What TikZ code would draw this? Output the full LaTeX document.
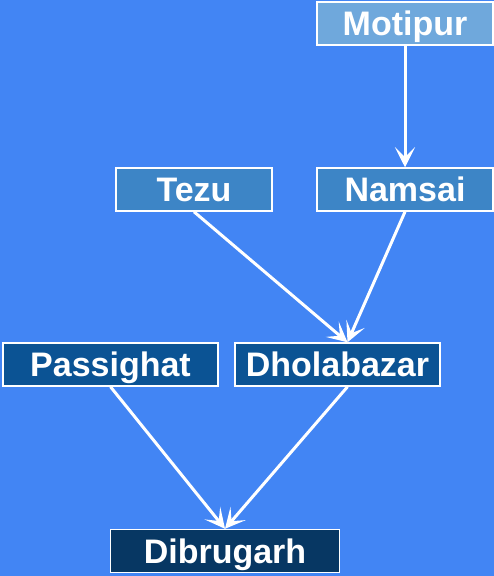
\documentclass[tikz,border=0pt]{standalone}
\usepackage{fontspec}
\setmainfont{Liberation Sans}
\usetikzlibrary{arrows.meta,positioning}
\definecolor{bgblue}{HTML}{4285F4}
\definecolor{lvlone}{HTML}{6FA8DC}
\definecolor{lvltwo}{HTML}{3D85C6}
\definecolor{lvlthree}{HTML}{0B5394}
\definecolor{lvlfour}{HTML}{073763}

\begin{document}
\begin{tikzpicture}[x=1pt, y=-1pt,
  every node/.style={font=\fontsize{34}{34}\selectfont\bfseries, text=white},
  town/.style={draw=white, line width=1.5pt, minimum height=43pt, inner sep=0pt,
    text height=24.3pt, text depth=0pt},
  arr/.style={-{Stealth[length=20pt, width=20pt, inset=10pt]}, draw=white, line width=3pt}]
\fill[bgblue] (0,0) rectangle (494,576);
\useasboundingbox (0,0) rectangle (494,576);
\node[town, fill=lvlone, minimum width=176pt] (motipur) at (405,23.5) {Motipur};
\node[town, fill=lvltwo, minimum width=156pt] (tezu) at (194,189.5) {Tezu};
\node[town, fill=lvltwo, minimum width=176pt] (namsai) at (405,189.5) {Namsai};
\node[town, fill=lvlthree, minimum width=215pt] (passighat) at (110.5,364.5) {Passighat};
\node[town, fill=lvlthree, minimum width=205pt] (dholabazar) at (337.5,364.5) {Dholabazar};
\node[town, fill=lvlfour, minimum width=229pt] (dibrugarh) at (225,551) {Dibrugarh};
\draw[arr] (motipur) -- (namsai);
\draw[arr] (tezu.south) -- ([xshift=10pt]dholabazar.north);
\draw[arr] (namsai.south) -- ([xshift=10pt]dholabazar.north);
\draw[arr] (passighat.south) -- (dibrugarh.north);
\draw[arr] ([xshift=10pt]dholabazar.south) -- (dibrugarh.north);
\end{tikzpicture}
\end{document}
